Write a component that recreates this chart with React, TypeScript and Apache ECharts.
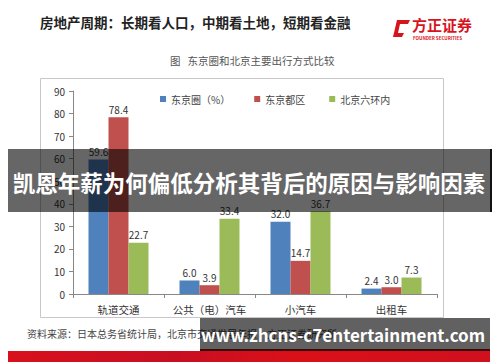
import React, { useEffect, useRef } from "react";
import * as echarts from "echarts";

const categories = ["轨道交通", "公共（电）汽车", "小汽车", "出租车"];
const seriesNames = ["东京圈（%）", "东京都区", "北京六环内"];
const tokyoArea = [59.6, 6.0, 32.0, 2.4];
const tokyoWards = [78.4, 3.9, 14.7, 3.0];
const beijing6 = [22.7, 33.4, 36.7, 7.3];
const colors = ["#4F81BD", "#C0504D", "#9BBB59"];

const FONT = "'Noto Sans CJK SC', 'Noto Sans', sans-serif";

export default function App() {
  const ref = useRef<HTMLDivElement>(null);
  useEffect(() => {
    if (!ref.current) return;
    const chart = echarts.init(ref.current, undefined, { renderer: "svg" });
    const mk = (name: string, data: number[], i: number) => ({
      name,
      type: "bar",
      data,
      barWidth: 20,
      barGap: "0%",
      itemStyle: { color: colors[i] },
      label: {
        show: true,
        position: "top",
        distance: 3,
        fontSize: 10,
        color: "#333",
        fontFamily: FONT,
        formatter: (p: any) => Number(p.value).toFixed(1),
      },
    });
    chart.setOption({
      animation: false,
      backgroundColor: "#ffffff",
      textStyle: { fontFamily: FONT },
      grid: { left: 73, right: 63, top: 91, bottom: 68 },
      legend: {
        left: 155,
        top: 89,
        itemWidth: 6,
        itemHeight: 6,
        itemGap: 24,
        icon: "rect",
        textStyle: { fontSize: 10, color: "#444", fontFamily: FONT },
        data: seriesNames,
      },
      xAxis: {
        type: "category",
        data: categories,
        axisLine: { lineStyle: { color: "#888" } },
        axisTick: { show: true, alignWithLabel: false, length: 4, lineStyle: { color: "#888" } },
        axisLabel: { interval: 0, fontSize: 10.5, color: "#333", margin: 10, fontFamily: FONT },
      },
      yAxis: {
        type: "value",
        min: 0,
        max: 90,
        interval: 10,
        axisLine: { show: true, lineStyle: { color: "#888" } },
        axisTick: { show: true, length: 4, lineStyle: { color: "#888" } },
        splitLine: { show: false },
        axisLabel: { fontSize: 10, color: "#333", margin: 8, fontFamily: FONT },
      },
      series: [
        mk(seriesNames[0], tokyoArea, 0),
        mk(seriesNames[1], tokyoWards, 1),
        mk(seriesNames[2], beijing6, 2),
      ],
      graphic: [
        {
          type: "text",
          left: 40,
          top: 15,
          z: 10,
          style: {
            text: "房地产周期：长期看人口，中期看土地，短期看金融",
            font: `bold 13.5px ${FONT}`,
            fill: "#222",
          },
        },
        {
          type: "polygon",
          z: 10,
          shape: { points: [[397, 20], [410, 20], [408, 24], [400, 24], [398, 33], [404, 33], [402, 37], [393, 37]] },
          style: { fill: "#d7141e" },
        },
        {
          type: "text",
          left: 412,
          top: 17,
          z: 10,
          style: { text: "方正证券", font: `bold 15px ${FONT}`, fill: "#d7141e" },
        },
        {
          type: "text",
          left: 413,
          top: 36,
          z: 10,
          style: { text: "FOUNDER SECURITIES", font: `bold 4.5px ${FONT}`, fill: "#d7141e" },
        },
        {
          type: "text",
          left: 170,
          top: 55,
          z: 10,
          style: { text: "图   东京圈和北京主要出行方式比较", font: `10.5px ${FONT}`, fill: "#555" },
        },
        {
          type: "rect",
          z: 1,
          shape: { x: 40.5, y: 78.5, width: 403, height: 239 },
          style: { fill: "none", stroke: "#c8c8c8", lineWidth: 1 },
        },
        {
          type: "text",
          left: 27,
          top: 328,
          z: 10,
          style: {
            text: "资料来源：日本总务省统计局，北京市交通发展年报，方正证券研究所",
            font: `10px ${FONT}`,
            fill: "#444",
          },
        },
        {
          type: "rect",
          z: 50,
          shape: { x: 8, y: 351, width: 482, height: 11 },
          style: {
            fill: new echarts.graphic.LinearGradient(0, 0, 1, 0, [
              { offset: 0, color: "#d8101c" },
              { offset: 0.35, color: "#c80f22" },
              { offset: 0.6, color: "#da1018" },
              { offset: 1, color: "#d0101e" },
            ]),
          },
        },
        {
          type: "rect",
          z: 100,
          shape: { x: 8, y: 149, width: 482, height: 63 },
          style: { fill: "rgba(0,0,0,0.6)" },
        },
        {
          type: "rect",
          z: 100,
          shape: { x: 490, y: 149, width: 2, height: 63 },
          style: { fill: "#111" },
        },
        {
          type: "text",
          z: 101,
          x: 249,
          y: 182,
          style: {
            text: "凯恩年薪为何偏低分析其背后的原因与影响因素",
            font: `bold 22.5px ${FONT}`,
            fill: "#fff",
            align: "center",
            verticalAlign: "middle",
          },
        },
        {
          type: "rect",
          z: 100,
          shape: { x: 200, y: 318, width: 290, height: 32 },
          style: { fill: "rgba(0,0,0,0.62)" },
        },
        {
          type: "rect",
          z: 100,
          shape: { x: 200, y: 349, width: 290, height: 2 },
          style: { fill: "#3a0a0a" },
        },
        {
          type: "text",
          z: 101,
          x: 343,
          y: 334,
          style: {
            text: "www.zhcns-c7entertainment.com",
            font: `bold 17px ${FONT}`,
            fill: "#fff",
            align: "center",
            verticalAlign: "middle",
          },
        },
      ],
    });
    return () => chart.dispose();
  }, []);
  return (
    <div
      ref={ref}
      style={{ position: "fixed", left: 0, top: 0, width: 500, height: 362, background: "#fff" }}
    />
  );
}
